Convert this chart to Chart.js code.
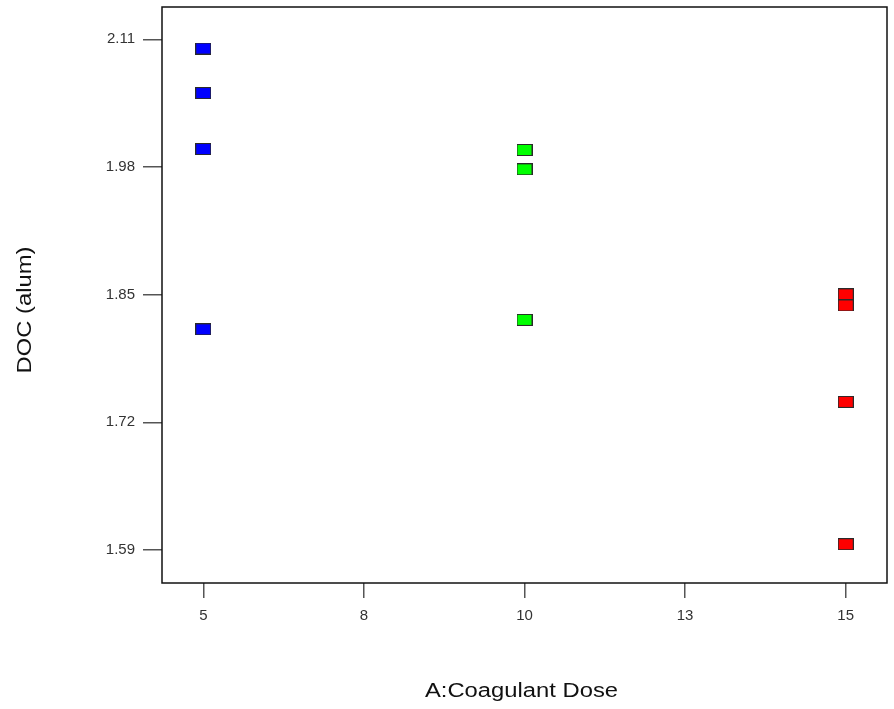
<!DOCTYPE html>
<html>
<head>
<meta charset="utf-8">
<title>DOC (alum) vs A:Coagulant Dose</title>
<script src="https://cdn.jsdelivr.net/npm/chart.js@4/dist/chart.umd.min.js"></script>
<style>
  html, body { margin: 0; padding: 0; background: #ffffff; }
  #wrap { width: 894px; height: 709px; }
</style>
</head>
<body>
<div id="wrap"><canvas id="chart" width="894" height="709"></canvas></div>
<script>
// Coagulant dose levels and measured DOC at each level
const doseLow = [5, 5, 5, 5];
const docLow = [2.1006, 2.0553, 1.9983, 1.8147];
const doseMid = [10, 10, 10];
const docMid = [1.9973, 1.9776, 1.8243];
const doseHigh = [15, 15, 15, 15];
const docHigh = [1.8503, 1.8390, 1.7408, 1.5959];

// Axis ticks
const xTickValues = [5, 7.5, 10, 12.5, 15];
const xTickLabels = ['5', '8', '10', '13', '15'];
const yTickValues = [1.59, 1.72, 1.85, 1.98, 2.11];
const yTickLabels = ['1.59', '1.72', '1.85', '1.98', '2.11'];

const xTitle = 'A:Coagulant Dose';
const yTitle = 'DOC (alum)';

const FONT = '"Liberation Sans", Arial, sans-serif';

// Rectangular marker drawn into a small canvas
function marker(fill) {
  const c = document.createElement('canvas');
  c.width = 16; c.height = 12;
  const g = c.getContext('2d');
  g.fillStyle = fill;
  g.fillRect(0, 0, 16, 12);
  g.strokeStyle = '#2a2a2a';
  g.lineWidth = 1;
  g.strokeRect(0.5, 0.5, 15, 11);
  return c;
}

function pts(xs, ys) { return xs.map((x, i) => ({ x: x, y: ys[i] })); }

function noPad(s) { s.paddingTop = 0; s.paddingBottom = 0; s.paddingLeft = 0; s.paddingRight = 0; }

// Frame around the plot area and stretched axis titles
const framePlugin = {
  id: 'frame',
  afterDraw(chart) {
    const { ctx, chartArea: a } = chart;
    ctx.save();
    ctx.strokeStyle = '#111';
    ctx.lineWidth = 1.5;
    ctx.strokeRect(a.left, a.top, a.right - a.left, a.bottom - a.top);

    ctx.fillStyle = '#111';
    ctx.font = '19.5px ' + FONT;
    ctx.textAlign = 'center';
    ctx.textBaseline = 'alphabetic';

    ctx.save();
    ctx.translate(521.5, 697.3);
    ctx.scale(1.22, 1);
    ctx.fillText(xTitle, 0, 0);
    ctx.restore();

    ctx.save();
    ctx.translate(30.5, 310);
    ctx.rotate(-Math.PI / 2);
    ctx.scale(1.22, 1);
    ctx.fillText(yTitle, 0, 0);
    ctx.restore();

    ctx.restore();
  }
};

new Chart(document.getElementById('chart'), {
  type: 'scatter',
  data: {
    datasets: [
      { data: pts(doseLow, docLow), pointStyle: marker('#0000ff'), pointRadius: 8 },
      { data: pts(doseMid, docMid), pointStyle: marker('#00ff00'), pointRadius: 8 },
      { data: pts(doseHigh, docHigh), pointStyle: marker('#ff0000'), pointRadius: 8 }
    ]
  },
  options: {
    responsive: false,
    animation: false,
    events: [],
    layout: { autoPadding: false, padding: { top: 7, right: 7, left: 0, bottom: 0 } },
    plugins: { legend: { display: false }, tooltip: { enabled: false } },
    scales: {
      x: {
        type: 'linear',
        min: 4.357,
        max: 15.643,
        afterBuildTicks(s) { s.ticks = xTickValues.map(v => ({ value: v })); },
        afterFit(s) { s.height = 126; noPad(s); },
        border: { display: false },
        grid: { drawOnChartArea: false, drawTicks: true, tickLength: 15, color: '#555', lineWidth: 1.5 },
        ticks: {
          autoSkip: false,
          maxRotation: 0,
          padding: 9,
          color: '#333',
          font: { family: FONT, size: 15 },
          callback(v) { const i = xTickValues.indexOf(v); return i >= 0 ? xTickLabels[i] : ''; }
        }
      },
      y: {
        type: 'linear',
        min: 1.5564,
        max: 2.1429,
        afterBuildTicks(s) { s.ticks = yTickValues.map(v => ({ value: v })); },
        afterFit(s) { s.width = 162; noPad(s); },
        border: { display: false },
        grid: { drawOnChartArea: false, drawTicks: true, tickLength: 19, color: '#555', lineWidth: 1.5 },
        ticks: {
          autoSkip: false,
          padding: 8,
          color: '#333',
          font: { family: FONT, size: 15 },
          callback(v) { const i = yTickValues.indexOf(v); return i >= 0 ? yTickLabels[i] : ''; }
        }
      }
    }
  },
  plugins: [framePlugin]
});
</script>
</body>
</html>
